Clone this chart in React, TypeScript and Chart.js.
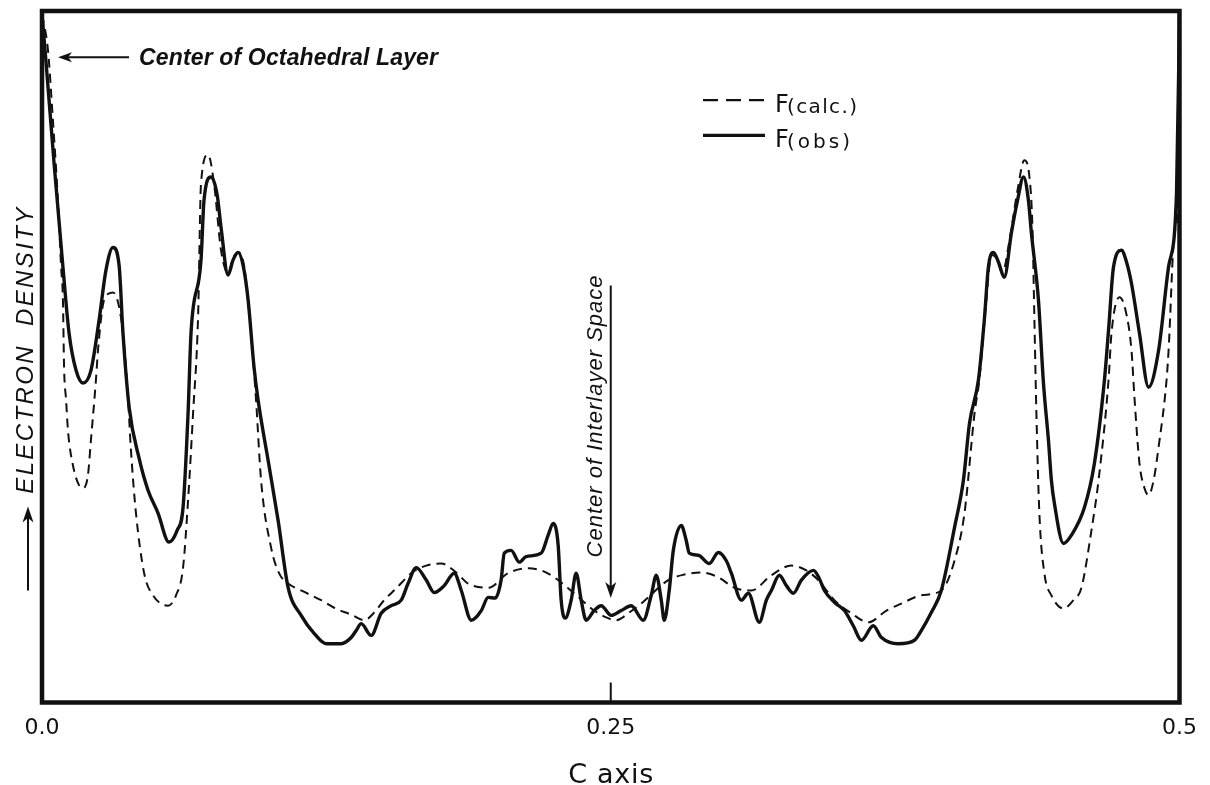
import { useEffect, useRef } from 'react';
import { Chart, registerables } from 'chart.js';

Chart.register(...registerables);

// ---- data (C axis fraction, electron density in arbitrary units 0..100) ----
const OBS_C = [
  0, 0.0018, 0.0053, 0.0092, 0.0119, 0.015, 0.018, 0.0215, 0.0251, 0.0281,
  0.0312, 0.0339, 0.0356, 0.0383, 0.0427, 0.0466, 0.051, 0.0558, 0.0594, 0.062,
  0.0642, 0.0655, 0.0699, 0.0712, 0.0743, 0.077, 0.0787, 0.0818, 0.084, 0.0862,
  0.0884, 0.0906, 0.0932, 0.095, 0.0994, 0.1038, 0.1082, 0.1139, 0.1196, 0.1249,
  0.1315, 0.1359, 0.1381, 0.1403, 0.1447, 0.1491, 0.1535, 0.1579, 0.1609, 0.1645,
  0.1689, 0.1724, 0.1768, 0.1812, 0.1843, 0.1887, 0.1931, 0.1961, 0.1992, 0.2018,
  0.2032, 0.2062, 0.2098, 0.2128, 0.2194, 0.2225, 0.2247, 0.2269, 0.2282, 0.23,
  0.2326, 0.2348, 0.237, 0.2392, 0.2427, 0.2458, 0.2502, 0.2546, 0.259, 0.2643,
  0.2678, 0.27, 0.2722, 0.2735, 0.2757, 0.2775, 0.281, 0.2832, 0.2845, 0.2885,
  0.2933, 0.2973, 0.3008, 0.303, 0.3074, 0.3105, 0.3153, 0.3184, 0.3206, 0.3241,
  0.3272, 0.3303, 0.3338, 0.3391, 0.3417, 0.3439, 0.3483, 0.3527, 0.3566, 0.3602,
  0.3654, 0.369, 0.3764, 0.3835, 0.3865, 0.3909, 0.3953, 0.4011, 0.405, 0.4077,
  0.4116, 0.4142, 0.416, 0.4182, 0.4204, 0.423, 0.4261, 0.4288, 0.4314, 0.4336,
  0.4349, 0.438, 0.4402, 0.4424, 0.4437, 0.445, 0.449, 0.4525, 0.4582, 0.4626,
  0.467, 0.4688, 0.471, 0.4745, 0.4767, 0.4789, 0.4824, 0.4864, 0.4908, 0.4952,
  0.4987, 0.5,
];
const OBS_D = [
  99.5, 92.5, 78.0, 63.0, 53.4, 48.0, 46.2, 48.0, 55.3, 62.5,
  65.8, 63.2, 53.4, 42.7, 35.3, 30.7, 27.4, 23.2, 24.9, 28.2,
  41.8, 53.4, 64.0, 72.6, 76.0, 73.4, 68.7, 61.8, 64.0, 65.1,
  63.2, 58.2, 48.5, 43.7, 35.0, 26.3, 16.6, 12.6, 10.0, 8.5,
  8.5, 9.4, 10.4, 11.4, 9.7, 12.9, 14.0, 14.8, 17.2, 19.5,
  17.7, 15.9, 16.9, 18.7, 16.2, 11.9, 13.3, 15.2, 15.1, 17.7,
  21.6, 22.0, 20.3, 21.1, 21.6, 24.2, 25.9, 22.7, 14.8, 12.2,
  14.8, 18.7, 14.8, 11.9, 13.3, 14.0, 12.6, 13.3, 14.0, 11.9,
  15.5, 18.4, 14.8, 11.9, 16.2, 22.0, 25.6, 23.4, 21.6, 21.3,
  20.1, 21.7, 20.5, 18.7, 14.8, 15.8, 11.6, 14.8, 16.2, 18.4,
  16.9, 15.8, 17.7, 19.1, 17.9, 16.2, 14.5, 13.3, 11.1, 9.0,
  11.1, 9.4, 8.5, 9.0, 10.4, 13.0, 16.2, 25.3, 32.1, 40.4,
  46.6, 55.3, 63.0, 65.1, 63.7, 61.5, 67.9, 72.6, 76.0, 72.6,
  67.9, 58.2, 46.2, 37.9, 32.1, 28.8, 23.0, 24.2, 28.2, 34.6,
  46.6, 53.8, 63.0, 65.4, 63.7, 60.6, 53.4, 45.6, 50.9, 63.0,
  73.7, 99.5,
];
const CALC_C = [
  0, 0.0026, 0.0048, 0.007, 0.0084, 0.0092, 0.0097, 0.0106, 0.0114, 0.0136,
  0.0163, 0.018, 0.0202, 0.0215, 0.0237, 0.0246, 0.0273, 0.0312, 0.0347, 0.0369,
  0.0378, 0.0391, 0.0413, 0.0449, 0.0488, 0.0554, 0.0589, 0.062, 0.0642, 0.0664,
  0.0686, 0.0699, 0.073, 0.0756, 0.0787, 0.0818, 0.084, 0.0862, 0.0888, 0.0919,
  0.0941, 0.0963, 0.1007, 0.1042, 0.1082, 0.1139, 0.1227, 0.1284, 0.1359, 0.1416,
  0.146, 0.1504, 0.1557, 0.1623, 0.1689, 0.1755, 0.1821, 0.1873, 0.1961, 0.2049,
  0.2137, 0.2194, 0.2252, 0.2339, 0.2427, 0.248, 0.2524, 0.2581, 0.2634, 0.2753,
  0.2823, 0.2898, 0.2973, 0.3043, 0.3118, 0.3206, 0.3294, 0.336, 0.3412, 0.3483,
  0.3558, 0.3632, 0.3712, 0.3777, 0.3865, 0.3953, 0.4011, 0.4055, 0.4099, 0.412,
  0.4151, 0.4173, 0.4195, 0.4222, 0.4253, 0.4288, 0.4318, 0.434, 0.4354, 0.4362,
  0.4371, 0.4384, 0.4406, 0.4437, 0.449, 0.4534, 0.4569, 0.4613, 0.4644, 0.4688,
  0.4701, 0.4736, 0.4763, 0.4789, 0.4802, 0.4824, 0.4846, 0.4864, 0.4886, 0.4908,
  0.4943, 0.4952, 0.4978, 0.4996, 0.5,
];
const CALC_D = [
  99.5, 94.4, 84.2, 72.6, 63.0, 58.2, 48.5, 43.7, 39.4, 34.3,
  31.4, 31.0, 32.9, 37.9, 46.6, 50.9, 58.2, 59.3, 55.7, 48.5,
  44.1, 36.5, 27.4, 18.7, 15.5, 14.0, 15.5, 19.5, 29.2, 41.8,
  55.7, 75.1, 79.2, 75.1, 65.4, 62.1, 64.3, 65.1, 63.2, 53.4,
  43.7, 32.1, 22.4, 18.7, 17.2, 16.2, 14.8, 13.7, 12.7, 11.9,
  13.0, 14.8, 16.5, 18.7, 19.8, 20.1, 18.8, 17.2, 16.6, 18.7,
  19.4, 19.1, 18.1, 15.8, 13.3, 12.3, 11.9, 13.0, 14.3, 17.7,
  18.5, 18.8, 18.1, 16.6, 16.2, 18.4, 19.8, 19.1, 17.7, 14.8,
  12.9, 11.6, 13.3, 14.3, 15.5, 16.2, 20.5, 27.4, 41.8, 46.6,
  58.2, 64.7, 64.3, 62.2, 66.9, 74.1, 78.4, 76.1, 68.3, 55.7,
  41.8, 27.4, 18.7, 15.5, 13.6, 14.8, 16.6, 24.9, 32.1, 46.6,
  53.4, 58.6, 56.7, 50.9, 44.1, 34.6, 31.0, 30.0, 32.1, 36.9,
  46.6, 50.9, 67.9, 75.1, 99.5,
];

const TICK_VALUES = [0, 0.25, 0.5];
const TICK_LABELS = ['0.0', '0.25', '0.5'];
const SERIES_LABELS = ['F(calc.)', 'F(obs)'];
const X_TITLE = 'C axis';
const Y_TITLE = 'ELECTRON  DENSITY';
const NOTE_OCTA = 'Center of Octahedral Layer';
const NOTE_INTER = 'Center of Interlayer Space';
const NOTE_OCTA_AT = 0; // C value pointed at
const NOTE_INTER_AT = 0.25;

const INK = '#111111';
const TEXT_FONT = '"Liberation Sans", "DejaVu Sans", sans-serif';
const TICK_FONT = '"DejaVu Sans", "Liberation Sans", sans-serif';

function spacedText(ctx: any, text: string, x: number, y: number, width: number, align: 'left' | 'center') {
  ctx.letterSpacing = '0px';
  const natural = ctx.measureText(text).width;
  const n = text.length;
  const ls = n > 1 ? (width - natural) / (n - 1) : 0;
  ctx.letterSpacing = ls.toFixed(2) + 'px';
  const start = align === 'center' ? x - width / 2 : x;
  ctx.textAlign = 'left';
  ctx.fillText(text, start, y);
  ctx.letterSpacing = '0px';
}

function arrow(ctx: any, x1: number, y1: number, x2: number, y2: number, lw: number, head: number, half: number) {
  const ang = Math.atan2(y2 - y1, x2 - x1);
  const c = Math.cos(ang), s = Math.sin(ang);
  ctx.lineWidth = lw;
  ctx.beginPath();
  ctx.moveTo(x1, y1);
  ctx.lineTo(x2 - c * head * 0.7, y2 - s * head * 0.7);
  ctx.stroke();
  ctx.beginPath();
  ctx.moveTo(x2, y2);
  ctx.lineTo(x2 - c * head - s * half, y2 - s * head + c * half);
  ctx.lineTo(x2 - c * head * 0.72, y2 - s * head * 0.72);
  ctx.lineTo(x2 - c * head + s * half, y2 - s * head - c * half);
  ctx.closePath();
  ctx.fill();
}

const decor = {
  id: 'decor',
  afterDatasetsDraw(chart: any) {
    const { ctx, chartArea: a, scales } = chart;
    const xs = scales.x;
    const ys = scales.y;
    ctx.save();
    ctx.strokeStyle = INK;
    ctx.fillStyle = INK;
    ctx.lineCap = 'butt';

    // frame
    ctx.lineWidth = 4.5;
    ctx.strokeRect(a.left, a.top, a.right - a.left, a.bottom - a.top);

    // inner tick at 0.25
    const xm = xs.getPixelForValue(NOTE_INTER_AT);
    ctx.lineWidth = 2;
    ctx.beginPath();
    ctx.moveTo(xm, a.bottom);
    ctx.lineTo(xm, a.bottom - 20);
    ctx.stroke();

    // octahedral note
    const yo = ys.getPixelForValue(93.3);
    const xo = xs.getPixelForValue(NOTE_OCTA_AT);
    arrow(ctx, xo + 87, yo, xo + 16, yo, 2, 14, 5);
    ctx.font = `italic bold 23px ${TEXT_FONT}`;
    ctx.textBaseline = 'alphabetic';
    spacedText(ctx, NOTE_OCTA, xo + 97, yo + 8, 299, 'left');

    // interlayer note
    const yTop = ys.getPixelForValue(60.3);
    const yTip = ys.getPixelForValue(15.1);
    arrow(ctx, xm, yTop, xm, yTip, 2, 16, 5.5);
    ctx.save();
    ctx.translate(xm - 17, (yTop + ys.getPixelForValue(23)) / 2 + 2);
    ctx.rotate(-Math.PI / 2);
    ctx.font = `italic 22px ${TEXT_FONT}`;
    spacedText(ctx, NOTE_INTER, 0, 8, 282, 'center');
    ctx.restore();

    // legend
    const lx1 = a.left + 661;
    const lx2 = a.left + 723;
    const rows = [ys.getPixelForValue(87.1), ys.getPixelForValue(82.0)];
    ctx.lineWidth = 2.2;
    ctx.setLineDash([15, 8]);
    ctx.beginPath();
    ctx.moveTo(lx1, rows[0]);
    ctx.lineTo(lx2, rows[0]);
    ctx.stroke();
    ctx.setLineDash([]);
    ctx.lineWidth = 3.2;
    ctx.beginPath();
    ctx.moveTo(lx1, rows[1]);
    ctx.lineTo(lx2, rows[1]);
    ctx.stroke();
    SERIES_LABELS.forEach((lab, i) => {
      const base = rows[i] + 12;
      const main = lab.slice(0, 1);
      const sub = lab.slice(1);
      ctx.font = `24px ${TICK_FONT}`;
      ctx.textAlign = 'left';
      ctx.fillText(main, lx2 + 10, base);
      ctx.font = `20px ${TICK_FONT}`;
      spacedText(ctx, sub, lx2 + 22, base + 1, i === 0 ? 70 : 63, 'left');
    });

    // x title
    ctx.font = `27px ${TICK_FONT}`;
    spacedText(ctx, X_TITLE, xm, a.bottom + 80, 85, 'center');

    // y title with arrow
    const yx = a.left - 18;
    ctx.save();
    ctx.translate(yx, (a.top + a.bottom) / 2 - 6);
    ctx.rotate(-Math.PI / 2);
    ctx.font = `italic 24px ${TEXT_FONT}`;
    spacedText(ctx, Y_TITLE, 0, 9, 286, 'center');
    ctx.restore();
    arrow(ctx, yx + 4, a.bottom - 112, yx + 4, a.bottom - 196, 2, 16, 5.5);

    ctx.restore();
  },
};

export default function App() {
  const ref = useRef<HTMLCanvasElement | null>(null);
  useEffect(() => {
    const canvas = ref.current;
    if (!canvas) return;
    const obs = OBS_C.map((c, i) => ({ x: c, y: OBS_D[i] }));
    const calc = CALC_C.map((c, i) => ({ x: c, y: CALC_D[i] }));
    const chart = new Chart(canvas, {
      type: 'line',
      data: {
        datasets: [
          {
            label: SERIES_LABELS[0],
            data: calc,
            borderColor: INK,
            borderWidth: 2,
            borderDash: [9, 6],
            pointRadius: 0,
            cubicInterpolationMode: 'monotone',
            fill: false,
          },
          {
            label: SERIES_LABELS[1],
            data: obs,
            borderColor: INK,
            borderWidth: 3.4,
            pointRadius: 0,
            cubicInterpolationMode: 'monotone',
            fill: false,
          },
        ],
      },
      options: {
        responsive: false,
        animation: false,
        events: [],
        layout: { padding: { left: 42, right: 30.5, top: 11, bottom: 0 } },
        plugins: { legend: { display: false }, tooltip: { enabled: false }, title: { display: false } },
        scales: {
          x: {
            type: 'linear',
            min: 0,
            max: 0.5,
            grid: { display: false, drawTicks: false },
            border: { display: false },
            afterBuildTicks: (s: any) => {
              s.ticks = TICK_VALUES.map((v) => ({ value: v }));
            },
            afterFit: (s: any) => {
              s.height = 82.5;
            },
            ticks: {
              autoSkip: false,
              maxRotation: 0,
              padding: 13,
              color: INK,
              font: { family: TICK_FONT, size: 22 },
              callback: (_v: any, i: number) => TICK_LABELS[i],
            },
          },
          y: {
            type: 'linear',
            min: 0,
            max: 100,
            display: false,
          },
        },
      },
      plugins: [decor],
    } as any);
    return () => chart.destroy();
  }, []);
  return (
    <div style={{ position: 'fixed', left: 0, top: 0, width: 1210, height: 785, background: '#fff' }}>
      <canvas ref={ref} width={1210} height={785} style={{ display: 'block' }} />
    </div>
  );
}
